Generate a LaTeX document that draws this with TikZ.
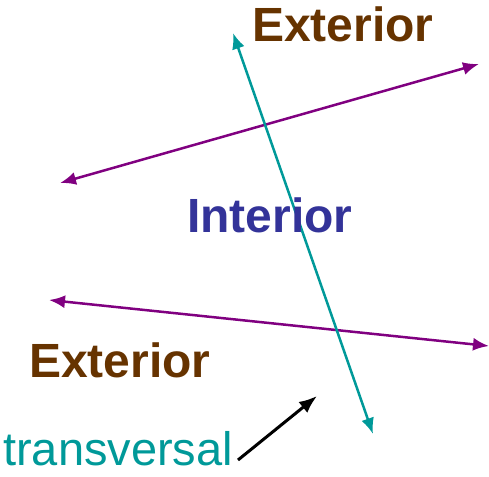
\documentclass[tikz,border=0pt]{standalone}
\usepackage{fontspec}
\setmainfont{Liberation Sans}
\usetikzlibrary{arrows.meta}
\definecolor{brownc}{RGB}{102,51,0}
\definecolor{purplec}{RGB}{128,0,128}
\definecolor{tealc}{RGB}{0,153,153}
\definecolor{bluec}{RGB}{51,51,153}
\begin{document}
\begin{tikzpicture}[x=1pt,y=-1pt,
  lbl/.style={inner sep=0pt,anchor=base west,font=\fontsize{48}{52}\selectfont},
  dbl/.style={line width=2.5pt,{Latex[length=16pt,width=13pt]}-{Latex[length=16pt,width=13pt]}}]
\useasboundingbox (0,0) rectangle (489,476);
\coordinate (t1) at (233,33);
\coordinate (t2) at (373,434);
\coordinate (u1) at (479,64);
\coordinate (u2) at (60,183);
\coordinate (l1) at (49,300);
\coordinate (l2) at (489,346);
\coordinate (a1) at (238,460);
\coordinate (a2) at (317,396);
\draw[dbl,purplec] (u2) -- (u1);
\draw[dbl,purplec] (l1) -- (l2);
\draw[dbl,tealc] (t1) -- (t2);
\node[lbl,text=brownc,font=\fontsize{48}{52}\selectfont\bfseries] (ext1) at (252,42) {Exterior};
\node[lbl,text=bluec,font=\fontsize{48}{52}\selectfont\bfseries] (int) at (187,232) {Interior};
\node[lbl,text=brownc,font=\fontsize{48}{52}\selectfont\bfseries] (ext2) at (29,377) {Exterior};
\node[lbl,text=tealc,font=\fontsize{47}{50}\selectfont] (tr) at (3,465) {transversal};
\draw[line width=3pt,-{Latex[length=18pt,width=14pt]}] (a1) -- (a2);
\end{tikzpicture}
\end{document}
